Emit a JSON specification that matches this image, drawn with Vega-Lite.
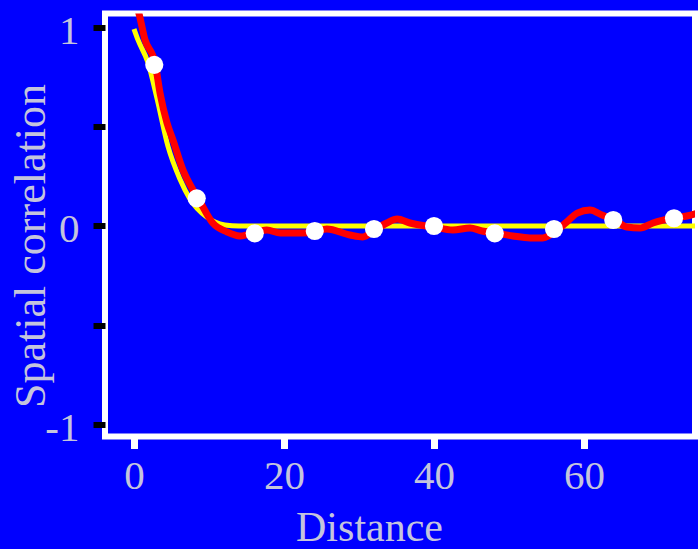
{
  "$schema": "https://vega.github.io/schema/vega-lite/v6.json",
  "autosize": {"type": "none"},
  "width": 590,
  "height": 423,
  "padding": {"left": 105, "top": 13.5, "right": 3, "bottom": 112.5},
  "background": "#0000ff",
  "config": {
    "view": {"fill": "#0000ff", "stroke": "#ffffff", "strokeWidth": 6},
    "axis": {"grid": false, "domain": false, "labelFont": "Liberation Serif", "titleFont": "Liberation Serif", "labelColor": "#c4c4dc", "titleColor": "#c4c4dc", "titleFontWeight": "normal"}
  },
  "datasets": {
    "model": [
      {"d": 0, "r": 0.99},
      {"d": 0.53, "r": 0.935},
      {"d": 1.87, "r": 0.82},
      {"d": 3.07, "r": 0.64},
      {"d": 4.53, "r": 0.4},
      {"d": 6.13, "r": 0.235},
      {"d": 7.47, "r": 0.135},
      {"d": 9.7, "r": 0.045},
      {"d": 10.8, "r": 0.02},
      {"d": 12.1, "r": 0.005},
      {"d": 14, "r": 0},
      {"d": 76, "r": 0}
    ],
    "smooth": [
      {"d": 0, "r": 1.13},
      {"d": 0.53, "r": 1.085},
      {"d": 1.47, "r": 0.935},
      {"d": 2.8, "r": 0.82},
      {"d": 3.47, "r": 0.668},
      {"d": 4.4, "r": 0.518},
      {"d": 5.2, "r": 0.432},
      {"d": 6.53, "r": 0.281},
      {"d": 7.87, "r": 0.181},
      {"d": 8.53, "r": 0.14},
      {"d": 10.5, "r": 0.015},
      {"d": 12.4, "r": -0.03},
      {"d": 14.1, "r": -0.05},
      {"d": 17.7, "r": -0.02},
      {"d": 19.5, "r": -0.035},
      {"d": 22.5, "r": -0.035},
      {"d": 24.1, "r": -0.03},
      {"d": 25.7, "r": -0.015},
      {"d": 28.8, "r": -0.045},
      {"d": 30.5, "r": -0.055},
      {"d": 32.1, "r": -0.02},
      {"d": 33.7, "r": 0.015},
      {"d": 35.1, "r": 0.035},
      {"d": 36.8, "r": 0.015},
      {"d": 39.9, "r": -0.005},
      {"d": 42.5, "r": -0.02},
      {"d": 44.8, "r": -0.01},
      {"d": 46.4, "r": -0.025},
      {"d": 48.1, "r": -0.035},
      {"d": 50.5, "r": -0.05},
      {"d": 52.8, "r": -0.06},
      {"d": 54.5, "r": -0.06},
      {"d": 55.5, "r": -0.045},
      {"d": 57.7, "r": 0.02},
      {"d": 59.1, "r": 0.065},
      {"d": 60.8, "r": 0.08},
      {"d": 62.4, "r": 0.055},
      {"d": 64.1, "r": 0.03},
      {"d": 65.7, "r": -0.005},
      {"d": 67.5, "r": -0.01},
      {"d": 69.2, "r": 0.015},
      {"d": 71.9, "r": 0.04},
      {"d": 73.7, "r": 0.05},
      {"d": 75.2, "r": 0.065}
    ],
    "points": [
      {"d": 2.7, "r": 0.81},
      {"d": 8.36, "r": 0.139},
      {"d": 16.1, "r": -0.037},
      {"d": 24.1, "r": -0.025},
      {"d": 32, "r": -0.015},
      {"d": 40, "r": 0.0},
      {"d": 48.1, "r": -0.037},
      {"d": 56, "r": -0.015},
      {"d": 63.9, "r": 0.03},
      {"d": 72, "r": 0.039}
    ]
  },
  "encoding": {
    "x": {
      "field": "d", "type": "quantitative",
      "scale": {"domain": [-3.87, 74.8], "nice": false, "zero": false},
      "axis": {
        "title": "Distance", "values": [0, 20, 40, 60],
        "tickColor": "#ffffff", "tickSize": 12, "tickWidth": 7,
        "labelFontSize": 41, "labelPadding": 8, "labelFlush": false,
        "titleFontSize": 42, "titleX": 264, "titleY": 104, "titleBaseline": "alphabetic", "titleAnchor": "middle"
      }
    },
    "y": {
      "field": "r", "type": "quantitative",
      "scale": {"domain": [-1.058, 1.068], "nice": false, "zero": false},
      "axis": {
        "title": "Spatial correlation", "values": [-1, -0.5, 0, 0.5, 1],
        "labelExpr": "datum.value == 1 ? '1' : datum.value == 0 ? '0' : datum.value == -1 ? '-1' : ''",
        "tickColor": "#000000", "tickSize": 12, "tickWidth": 6,
        "labelFontSize": 41, "labelPadding": 14, "labelOffset": 4, "labelFlush": false,
        "titleFontSize": 44, "titleX": -61, "titleY": 232, "titleBaseline": "alphabetic", "titleAnchor": "middle", "titleAngle": 270
      }
    }
  },
  "layer": [
    {"data": {"name": "model"}, "mark": {"type": "line", "color": "#ffff00", "strokeWidth": 5, "interpolate": "monotone", "clip": true}},
    {"data": {"name": "smooth"}, "mark": {"type": "line", "color": "#ff0000", "strokeWidth": 7, "interpolate": "monotone", "clip": true}},
    {"data": {"name": "points"}, "mark": {"type": "circle", "color": "#ffffff", "opacity": 1, "size": 330}}
  ]
}
